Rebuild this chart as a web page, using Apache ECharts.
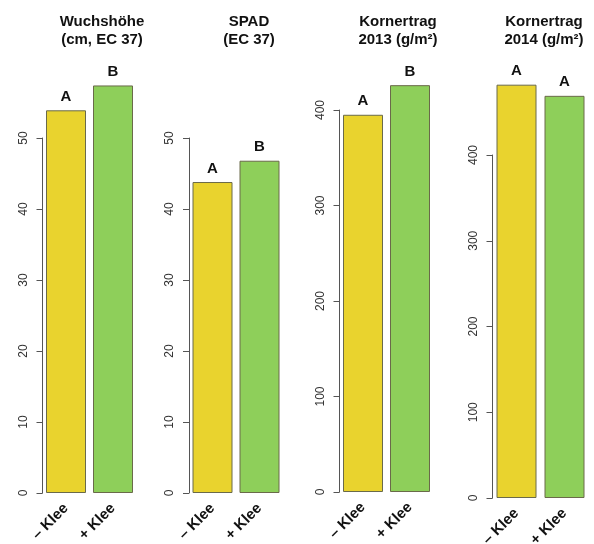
<!DOCTYPE html>
<html>
<head>
<meta charset="utf-8">
<script src="https://cdn.jsdelivr.net/npm/echarts@6/dist/echarts.min.js"></script>
<style>
  html, body { margin: 0; padding: 0; background: #fff; }
  #chart { width: 594px; height: 544px; }
</style>
</head>
<body>
<div id="chart"></div>
<script>
var categories = ['\u2013 Klee', '+ Klee']
var titles = ['Wuchshöhe\n(cm, EC 37)', 'SPAD\n(EC 37)', 'Kornertrag\n2013 (g/m²)', 'Kornertrag\n2014 (g/m²)']
var values = [
  [53.9, 57.4],
  [43.8, 46.8],
  [395, 426],
  [482, 469],
]
var letters = [
  ['A', 'B'],
  ['A', 'B'],
  ['A', 'B'],
  ['A', 'A'],
]
var yMax = [50, 50, 400, 400]
var yStep = [10, 10, 100, 100]

var colors = ['#E9D32E', '#8ECF5A']

// panel layout (px): axis x, width, top of highest tick, bottom margin
var panels = [
  { left: 42.5, width: 94, top: 138, bottom: 51, titleX: 102 },
  { left: 189, width: 94, top: 138, bottom: 51, titleX: 249 },
  { left: 339.5, width: 94, top: 110, bottom: 52, titleX: 398 },
  { left: 492.5, width: 96, top: 155, bottom: 46, titleX: 544 },
]

var font = '"Liberation Sans", Arial, Helvetica, sans-serif'

var myChart = echarts.init(document.getElementById('chart'))

var option = {
  backgroundColor: '#fff',
  animation: false,
  title: panels.map(function (p, i) {
    return {
      text: titles[i],
      left: p.titleX,
      top: 13,
      padding: 0,
      textAlign: 'center',
      textStyle: {
        fontFamily: font,
        fontSize: 15,
        fontWeight: 'bold',
        color: '#111',
        lineHeight: 18,
      },
    }
  }),
  grid: panels.map(function (p) {
    return {
      left: p.left,
      width: p.width,
      top: p.top,
      bottom: p.bottom,
      containLabel: false,
      outerBoundsMode: 'none',
    }
  }),
  xAxis: panels.map(function (p, i) {
    return {
      type: 'category',
      gridIndex: i,
      data: categories,
      axisLine: { show: false },
      axisTick: { show: false },
      axisLabel: {
        rotate: 45,
        margin: 13,
        fontFamily: font,
        fontSize: 15,
        fontWeight: 'bold',
        color: '#111',
      },
    }
  }),
  yAxis: panels.map(function (p, i) {
    return {
      type: 'value',
      gridIndex: i,
      min: 0,
      max: yMax[i],
      interval: yStep[i],
      splitLine: { show: false },
      axisLine: { show: true, lineStyle: { color: '#555', width: 1 } },
      axisTick: { show: true, length: 6, lineStyle: { color: '#555' } },
      axisLabel: {
        rotate: 90,
        margin: 13,
        fontFamily: font,
        fontSize: 12,
        color: '#333',
      },
    }
  }),
  series: panels.map(function (p, i) {
    return {
      type: 'bar',
      xAxisIndex: i,
      yAxisIndex: i,
      clip: false,
      barWidth: 40,
      data: values[i].map(function (v, j) {
        return {
          value: v,
          itemStyle: { color: colors[j] },
          label: { formatter: letters[i][j] },
        }
      }),
      itemStyle: { borderColor: '#6a6a4a', borderWidth: 1 },
      label: {
        show: true,
        position: 'top',
        distance: 6,
        fontFamily: font,
        fontSize: 15,
        fontWeight: 'bold',
        color: '#111',
      },
    }
  }),
}

option && myChart.setOption(option)
window.addEventListener('resize', function () {
  myChart.resize()
})
</script>
</body>
</html>
